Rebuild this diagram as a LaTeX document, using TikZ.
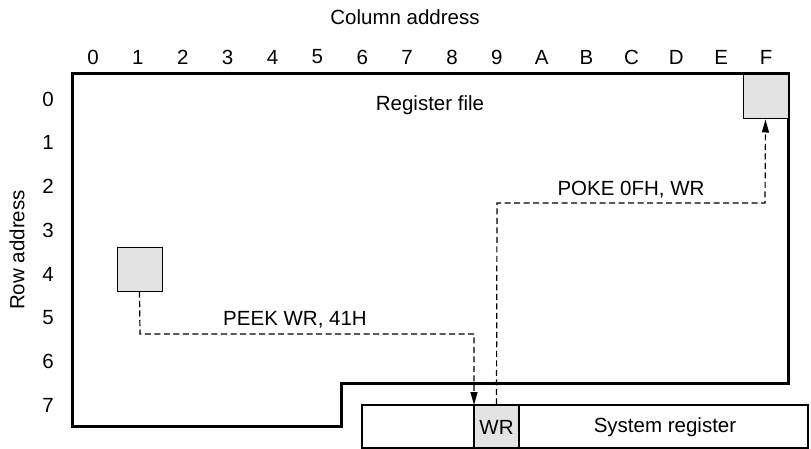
\documentclass[tikz,border=0pt]{standalone}
\usepackage{fontspec}
\setmainfont{Liberation Sans}
\usetikzlibrary{arrows.meta}
\begin{document}
\begin{tikzpicture}[x=1pt,y=-1pt,
  lbl/.style={font=\fontsize{20.5}{24}\selectfont, inner sep=0pt},
  cellbox/.style={draw=black, line width=1pt, fill=black!11},
  regline/.style={draw=black, line width=3pt, line join=miter},
  dashline/.style={draw=black, line width=1.2pt, dash pattern=on 6pt off 3.5pt},
  arr/.style={-{Triangle[length=13pt,width=7pt]}}
]
\useasboundingbox (0,0) rectangle (811,449);
% titles
\node[lbl] (coltitle) at (405,17) {Column address};
\node[lbl, rotate=90] (rowtitle) at (17,250) {Row address};
% column labels
\foreach \c/\t in {0/0,1/1,2/2,3/3,4/4,5/5,6/6,7/7,8/8,9/9,10/A,11/B,12/C,13/D,14/E,15/F}
  \node[lbl] (col\c) at ({93+44.87*\c},57) {\t};
% row labels
\foreach \r in {0,...,7}
  \node[lbl] (row\r) at (48,{99+43.8*\r}) {\r};
% register file outline
\draw[regline] (72,426) -- (72,74) -- (788,74) -- (788,383) -- (341,383) -- (341,426) -- cycle;
\node[lbl] (regfile) at (430,105) {Register file};
% cells
\node[cellbox, minimum width=45pt, minimum height=44pt, inner sep=0pt] (src) at (139.5,269) {};
\node[cellbox, minimum width=45pt, minimum height=44pt, inner sep=0pt] (dst) at (765.5,97) {};
% system register
\draw[line width=1.3pt] (362,405) rectangle (808,448);
\node[cellbox, line width=1.3pt, minimum width=45pt, minimum height=43pt, inner sep=0pt] (wr) at (496.5,426.5) {};
\node[lbl] (wrtext) at (496.5,427) {WR};
\node[lbl] (sysreg) at (665,427) {System register};
% connectors
\coordinate (p2) at (140,334);
\coordinate (p3) at (474,334);
\coordinate (p4) at (474,405);
\draw[dashline, arr] (src.south) -- (p2) -- (p3) -- (p4);
\node[lbl] (peek) at (295,320) {PEEK WR, 41H};
\coordinate (q2) at (497,203);
\coordinate (q3) at (765,203);
\draw[dashline, arr] (wr.north) -- (q2) -- (q3) -- (dst.south);
\node[lbl] (poke) at (631,190) {POKE 0FH, WR};
\end{tikzpicture}
\end{document}
